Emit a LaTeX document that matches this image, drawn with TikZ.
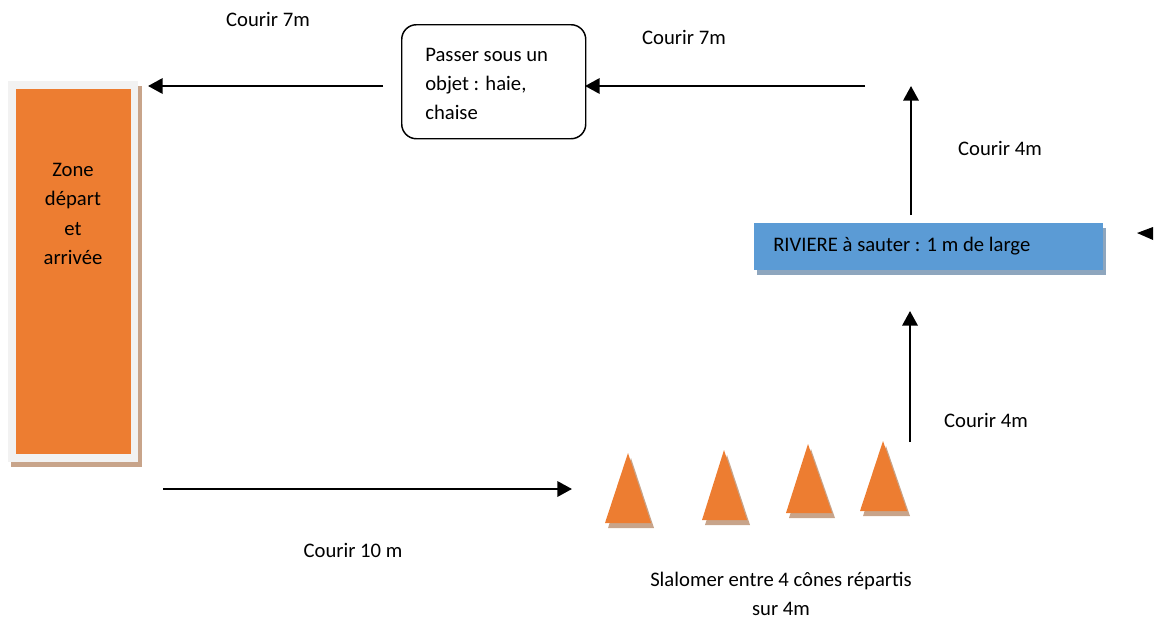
\documentclass[tikz,border=0pt]{standalone}
\usepackage{fontspec}
\setmainfont{Carlito}
\usetikzlibrary{arrows.meta}
\definecolor{orng}{HTML}{ED7D31}
\definecolor{tansh}{HTML}{C8A48A}
\definecolor{framegray}{HTML}{F2F2F2}
\definecolor{riverblue}{HTML}{5B9BD5}
\definecolor{riversh}{HTML}{8EA6BE}
\begin{document}
\begin{tikzpicture}[x=0.75pt,y=-0.75pt,
  font=\fontsize{15.5}{22}\selectfont,
  arr/.style={line width=1.8pt,-{Triangle[length=11pt,width=11.5pt]}},
  lbl/.style={inner sep=0pt}]
\useasboundingbox (0,0) rectangle (1157,621);

% start / finish zone
\fill[tansh] (11,86) rectangle (142,467);
\fill[framegray] (8,81) rectangle (138,462);
\node (zone) [fill=orng, minimum width=86.25pt, minimum height=273.75pt, anchor=north west, inner sep=0pt] at (16,89) {};
\node (zonetext) [lbl, align=center] at (73,214) {Zone\\départ\\et\\arrivée};

% obstacle box
\node (obst) [draw, line width=1.1pt, rounded corners=11pt, minimum width=138pt, minimum height=85.5pt, anchor=north west, inner sep=0pt] at (401,24) {};
\node (obsttext) [lbl, align=left, anchor=west] at (425,84) {Passer sous un\\objet : haie,\\chaise};

% river
\fill[riversh] (757,228) rectangle (1106,275);
\node (river) [fill=riverblue, minimum width=261.75pt, minimum height=35.25pt, anchor=north west, inner sep=0pt] at (754,223) {};
\node (rivertext) [lbl, anchor=west] at (773,246) {RIVIERE à sauter : 1 m de large};

% small marker at right
\fill (1137,233) -- (1153,227) -- (1153,240) -- cycle;

% cones
\foreach \ax/\ay/\lx/\rx/\by [count=\i] in {628/453/605/651/523, 724/450/702/747/520, 808/444/786/832/513, 883/441/860/907/511}{
  \fill[tansh] (\ax+3,\ay+5) -- (\rx+3,\by+5) -- (\lx+3,\by+5) -- cycle;
  \fill[orng] (\ax,\ay) -- (\rx,\by) -- (\lx,\by) -- cycle;
}

% connectors
\coordinate (a1s) at (383,86);
\coordinate (a1e) at (148,86);
\coordinate (a2s) at (865,86);
\coordinate (a2e) at (585,86);
\coordinate (a3s) at (911,215);
\coordinate (a3e) at (911,86);
\coordinate (a4s) at (910,442);
\coordinate (a4e) at (910,311);
\coordinate (a5s) at (163,489);
\coordinate (a5e) at (572,489);
\draw[arr] (a1s) -- (a1e);
\draw[arr] (a2s) -- (a2e);
\draw[arr] (a3s) -- (a3e);
\draw[arr] (a4s) -- (a4e);
\draw[arr] (a5s) -- (a5e);

% labels
\node (l1) [lbl] at (268,19) {Courir 7m};
\node (l2) [lbl] at (684,37) {Courir 7m};
\node (l3) [lbl] at (1000,148) {Courir 4m};
\node (l4) [lbl] at (986,420) {Courir 4m};
\node (l5) [lbl] at (353,550) {Courir 10 m};
\node (l6) [lbl, align=center] at (781,594) {Slalomer entre 4 cônes répartis\\sur 4m};
\end{tikzpicture}
\end{document}
